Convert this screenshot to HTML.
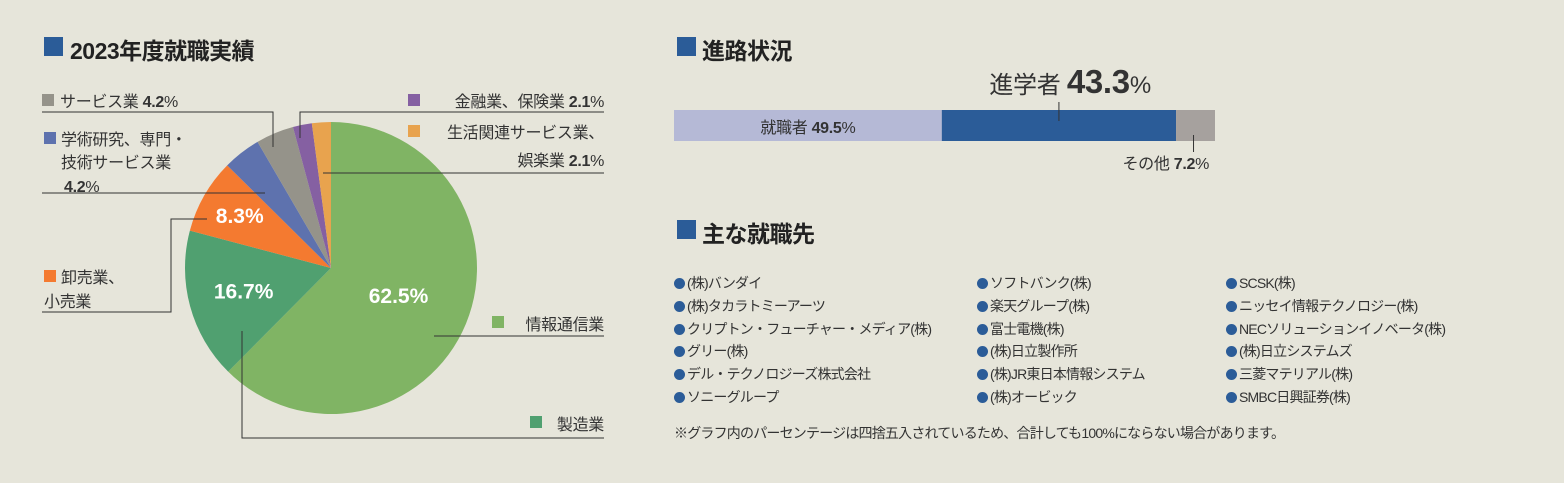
<!DOCTYPE html>
<html><head><meta charset="utf-8">
<style>
body{margin:0;background:#e6e5da;font-family:"Liberation Sans","Noto Sans CJK JP",sans-serif;color:#333;}
#root{position:relative;width:1564px;height:483px;overflow:hidden;background:#e6e5da;}
.t{position:absolute;white-space:nowrap;}
.title{font-size:23px;font-weight:bold;color:#222;letter-spacing:-0.5px;}
.sq{position:absolute;background:#2b5c98;}
.co{position:absolute;font-size:14px;letter-spacing:-0.8px;color:#333;white-space:nowrap;}
.co i{display:inline-block;width:11px;height:11px;border-radius:50%;background:#2b5c98;margin-right:2px;vertical-align:-1px;}
</style></head><body>
<div id="root">
<div class="sq" style="left:44px;top:37px;width:19px;height:19px"></div>
<div class="t title" style="left:70px;top:32px">2023年度就職実績</div>
<div class="sq" style="left:677px;top:37px;width:19px;height:19px"></div>
<div class="t title" style="left:702px;top:32px">進路状況</div>
<div class="sq" style="left:677px;top:220px;width:19px;height:19px"></div>
<div class="t title" style="left:702px;top:215px">主な就職先</div>

<svg id="chart" width="1564" height="483" style="position:absolute;left:0;top:0"></svg>

<div id="list"></div>
<div class="t" style="left:674px;top:423px;font-size:14px;letter-spacing:-0.8px">※グラフ内のパーセンテージは四捨五入されているため、合計しても100%にならない場合があります。</div>
</div>
<script>
const pieLabels=["情報通信業","製造業","卸売業、小売業","学術研究、専門・技術サービス業","サービス業","金融業、保険業","生活関連サービス業、娯楽業"];
const pieValues=[62.5,16.7,8.3,4.2,4.2,2.1,2.1];
const pieColors=["#80b464","#50a070","#f47a30","#5e72ae","#95938a","#8560a2","#e8a34e"];
const barLabels=["就職者","進学者","その他"];
const barValues=[49.5,43.3,7.2];
const barColors=["#b5b9d6","#2b5c98","#a6a19e"];
const companies=[["(株)バンダイ","(株)タカラトミーアーツ","クリプトン・フューチャー・メディア(株)","グリー(株)","デル・テクノロジーズ株式会社","ソニーグループ"],["ソフトバンク(株)","楽天グループ(株)","富士電機(株)","(株)日立製作所","(株)JR東日本情報システム","(株)オービック"],["SCSK(株)","ニッセイ情報テクノロジー(株)","NECソリューションイノベータ(株)","(株)日立システムズ","三菱マテリアル(株)","SMBC日興証券(株)"]];

const svg=document.getElementById('chart');const NS="http://www.w3.org/2000/svg";
function mk(tag,attrs,parent){const e=document.createElementNS(NS,tag);for(const k in attrs)e.setAttribute(k,attrs[k]);(parent||svg).appendChild(e);return e;}
const cx=331,cy=268,r=146;
const total=pieValues.reduce((a,b)=>a+b,0);
function pt(a,rr){return [cx+rr*Math.sin(a),cy-rr*Math.cos(a)];}
let acc=0;
pieValues.forEach((v,i)=>{
  const a0=acc/total*2*Math.PI;acc+=v;const a1=acc/total*2*Math.PI;
  const p0=pt(a0,r),p1=pt(a1,r);const large=(a1-a0)>Math.PI?1:0;
  const p=mk('path',{d:`M${cx},${cy}L${p0[0]},${p0[1]}A${r},${r} 0 ${large} 1 ${p1[0]},${p1[1]}Z`,fill:pieColors[i]});
  
  
  if(i<3){const mid=(a0+a1)/2;const rr=[0.5,0.62,0.72][i];const q=pt(mid,r*rr);
    const t=mk('text',{x:q[0],y:q[1]+7,'text-anchor':'middle','font-size':'21','font-weight':'bold',fill:'#fff'});t.textContent=v.toFixed(1)+'%';
    
    }
});
const lines=["M42,112H273V147","M300,138V112H604","M323,173H604","M42,193H265","M42,312H171V219H207","M434,336H604","M242,331V438H604"];
lines.forEach(d=>{const l=mk('path',{d:d,fill:'none',stroke:'#333','stroke-width':'1'});
  
  });
function leg(x,y,c){const s=mk('rect',{x:x,y:y,width:12,height:12,fill:c});
  
  }
function txt(x,y,str,anchor,size){const t=mk('text',{x:x,y:y,'text-anchor':anchor||'start','font-size':size||16,fill:'#333','letter-spacing':'-0.3'});t.innerHTML=str;
  
  return t;}
const pct=i=>`<tspan font-weight="bold">${pieValues[i].toFixed(1)}</tspan>%`;
leg(42,94,pieColors[4]);txt(60,107,'サービス業 '+pct(4));
leg(408,94,pieColors[5]);txt(604,107,'金融業、保険業 '+pct(5),'end');
leg(408,125,pieColors[6]);txt(604,138,'生活関連サービス業、','end');txt(604,166,'娯楽業 '+pct(6),'end');
leg(44,132,pieColors[3]);txt(61,145,'学術研究、専門・');txt(61,168,'技術サービス業');txt(64,192,pct(3));
leg(44,270,pieColors[2]);txt(61,283,'卸売業、');txt(44,307,'小売業');
leg(492,316,pieColors[0]);txt(604,330,'情報通信業','end');
leg(530,416,pieColors[1]);txt(604,430,'製造業','end');
const bx=674,bw=541,by=110,bh=31;const bt=barValues.reduce((a,b)=>a+b,0);
let bacc=0;const segs=[];
barValues.forEach((v,i)=>{const x0=bx+bacc/bt*bw;bacc+=v;const x1=bx+bacc/bt*bw;segs.push([x0,x1]);
  const rc=mk('rect',{x:x0,y:by,width:x1-x0,height:bh,fill:barColors[i]});
  
  });
const s0=segs[0];txt((s0[0]+s0[1])/2,133,barLabels[0]+' <tspan font-weight="bold">'+barValues[0].toFixed(1)+'</tspan>%','middle',16);
const s1=segs[1],m1=(s1[0]+s1[1])/2;
mk('line',{x1:m1,y1:102,x2:m1,y2:121,stroke:'#333'});
txt(m1+92,93,barLabels[1]+' <tspan font-weight="bold" font-size="33">'+barValues[1].toFixed(1)+'</tspan>%','end',24);
const s2=segs[2],m2=(s2[0]+s2[1])/2;
mk('line',{x1:m2-2,y1:135,x2:m2-2,y2:152,stroke:'#333'});
txt(1209,169,barLabels[2]+' <tspan font-weight="bold">'+barValues[2].toFixed(1)+'</tspan>%','end',16);
const list=document.getElementById('list');const colX=[674,977,1226];
companies.forEach((col,ci)=>col.forEach((n,ri)=>{const d=document.createElement('div');d.className='co';
  d.style.left=colX[ci]+'px';d.style.top=(273+ri*22.8)+'px';d.innerHTML='<i></i>'+n;
  
  list.appendChild(d);}));
</script>
</body></html>
